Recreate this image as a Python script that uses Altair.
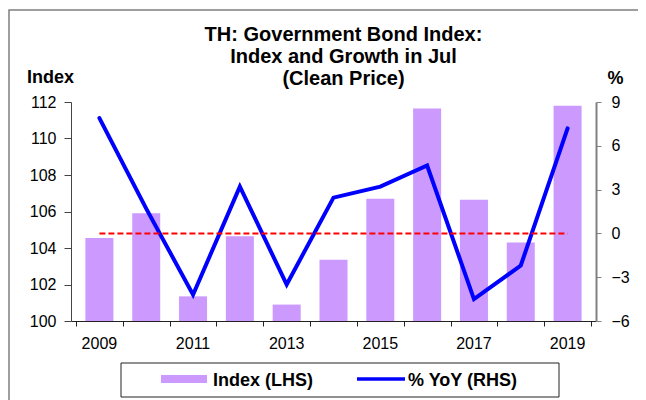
import altair as alt
import pandas as pd

years = [2009, 2010, 2011, 2012, 2013, 2014, 2015, 2016, 2017, 2018, 2019]
index_vals = [104.55, 105.9, 101.35, 104.65, 100.9, 103.35, 106.7, 111.65, 106.65, 104.3, 111.8]
yoy_vals = [7.9, 1.7, -4.2, 3.2, -3.5, 2.45, 3.2, 4.65, -4.5, -2.2, 7.2]
zero_vals = [0, 0, 0, 0, 0, 0, 0, 0, 0, 0, 0]
year_labels = ["2009", "", "2011", "", "2013", "", "2015", "", "2017", "", "2019"]
title_lines = ["TH: Government Bond Index:", "Index and Growth in Jul", "(Clean Price)"]
legend_labels = ["Index (LHS)", "% YoY (RHS)"]
left_ticks = [100, 102, 104, 106, 108, 110, 112]
right_ticks = [-6, -3, 0, 3, 6, 9]
x_ticks = [2008.5 + i for i in range(12)]

df = pd.DataFrame({"year": years, "index": index_vals, "yoy": yoy_vals,
                   "zero": zero_vals, "label": year_labels})

FONT = "Liberation Sans"
W, H = 525, 219
BAR = "#CC99FF"
BLUE = "#0000FF"

xscale = alt.Scale(domain=[2008.5, 2019.5], nice=False, zero=False)
xaxis = alt.Axis(values=x_ticks, labels=False, ticks=True, tickSize=5, grid=False,
                 domainColor="#222222", tickColor="#222222", title=None)

bars = alt.Chart(df).mark_bar(size=28, color=BAR).encode(
    x=alt.X("year:Q", scale=xscale, axis=xaxis),
    y=alt.Y("index:Q", scale=alt.Scale(domain=[100, 112], nice=False, zero=False),
            axis=alt.Axis(values=left_ticks, orient="left", grid=False, tickSize=7,
                          labelPadding=8, labelFont=FONT, labelFontSize=16, labelColor="black",
                          domainColor="#444444", tickColor="#444444",
                          title="Index", titleAngle=0, titleX=-21, titleY=-20,
                          titleAlign="center", titleBaseline="alphabetic",
                          titleFont=FONT, titleFontSize=18, titleFontWeight="bold",
                          titleColor="black")),
    y2=alt.datum(100),
)

rscale = alt.Scale(domain=[-6, 9], nice=False, zero=False)
raxis = alt.Axis(values=right_ticks, orient="right", grid=False, tickSize=5,
                 labelPadding=10, labelFont=FONT, labelFontSize=16, labelColor="black",
                 domainColor="#808080", tickColor="#808080", domainWidth=2,
                 title="%", titleAngle=0, titleX=19, titleY=-19,
                 titleAlign="center", titleBaseline="alphabetic",
                 titleFont=FONT, titleFontSize=18, titleFontWeight="bold",
                 titleColor="black")
yoy_line = alt.Chart(df).mark_line(color=BLUE, strokeWidth=4, strokeCap="round",
                                   strokeJoin="miter").encode(
    x=alt.X("year:Q", scale=xscale, axis=xaxis),
    y=alt.Y("yoy:Q", scale=rscale, axis=raxis),
)
zero_line = alt.Chart(df).mark_line(color="#FF0000", strokeWidth=2, strokeDash=[6, 3]).encode(
    x=alt.X("year:Q", scale=xscale, axis=xaxis),
    y=alt.Y("zero:Q", scale=rscale, axis=raxis),
)
right = alt.layer(yoy_line, zero_line)

xlabels = alt.Chart(df).mark_text(font=FONT, fontSize=16, color="black",
                                  baseline="alphabetic").encode(
    x=alt.X("year:Q", scale=xscale, axis=xaxis),
    y=alt.value(H + 28),
    text="label:N",
)

one = alt.Data(values=[{}])
frame = alt.Chart(one).mark_rect(fill=None, stroke="#7f7f7f", strokeWidth=1.5).encode(
    x=alt.value(-62), x2=alt.value(W + 100), y=alt.value(-92), y2=alt.value(H + 120))
leg_box = alt.Chart(one).mark_rect(fill="white", stroke="#222222", strokeWidth=1).encode(
    x=alt.value(50), x2=alt.value(488), y=alt.value(261), y2=alt.value(295))
leg_sw = alt.Chart(one).mark_rect(color=BAR).encode(
    x=alt.value(90), x2=alt.value(136), y=alt.value(273), y2=alt.value(281))
leg_t1 = alt.Chart(one).mark_text(text=legend_labels[0], font=FONT, fontSize=18,
                                  fontWeight="bold", align="left", baseline="alphabetic",
                                  color="black").encode(x=alt.value(142), y=alt.value(284))
leg_ln = alt.Chart(one).mark_rule(color=BLUE, strokeWidth=3.5).encode(
    x=alt.value(286), x2=alt.value(334), y=alt.value(277))
leg_t2 = alt.Chart(one).mark_text(text=legend_labels[1], font=FONT, fontSize=18,
                                  fontWeight="bold", align="left", baseline="alphabetic",
                                  color="black").encode(x=alt.value(337), y=alt.value(284))

chart = alt.layer(
    frame, bars, right, xlabels, leg_box, leg_sw, leg_t1, leg_ln, leg_t2
).resolve_scale(y="independent").properties(
    width=W, height=H,
    title=alt.Title(title_lines, font=FONT, fontSize=20, fontWeight="bold", color="black",
                    lineHeight=22, anchor="middle", dx=10, dy=80, offset=0),
    autosize=alt.AutoSizeParams(type="none"),
    padding={"left": 63, "top": 94, "right": 42, "bottom": 79},
).configure_view(stroke=None)

chart.save("out.html", embed_options={"renderer": "svg", "actions": False})
